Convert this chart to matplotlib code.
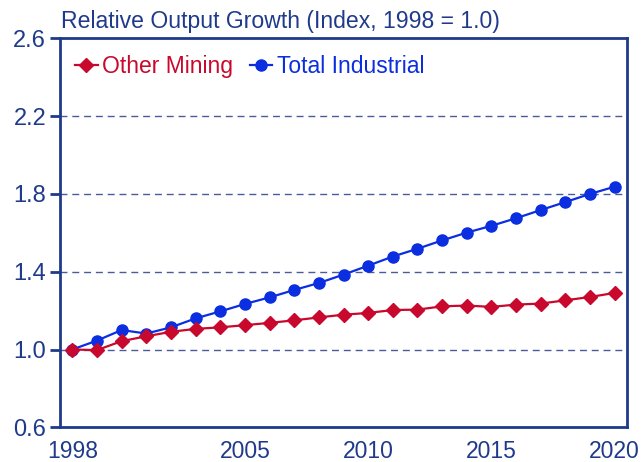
import matplotlib
matplotlib.use("Agg")
import matplotlib.pyplot as plt

# Data (index, 1998 = 1.0)
years = list(range(1998, 2021))
other_mining = [1.00, 0.997, 1.043, 1.068, 1.091, 1.106, 1.114, 1.125, 1.137, 1.150,
                1.165, 1.179, 1.188, 1.203, 1.205, 1.222, 1.226, 1.219, 1.231, 1.236,
                1.253, 1.270, 1.291]
total_industrial = [1.00, 1.046, 1.100, 1.082, 1.114, 1.160, 1.196, 1.234, 1.268, 1.306,
                    1.342, 1.385, 1.431, 1.478, 1.518, 1.561, 1.601, 1.636, 1.675, 1.717,
                    1.758, 1.800, 1.837]
x_ticks = [1998, 2005, 2010, 2015, 2020]
y_ticks = [0.6, 1.0, 1.4, 1.8, 2.2, 2.6]

NAVY = "#1f3a8a"
RED = "#c8082c"
BLUE = "#0a2ee0"

plt.rcParams["font.family"] = ["Liberation Sans", "DejaVu Sans"]

fig = plt.figure(figsize=(6.42, 4.62), dpi=100)
ax = fig.add_axes([0.0935, 0.0751, 0.8832, 0.842])

ax.plot(years, other_mining, color=RED, lw=1.6, marker="D", ms=6.8,
        label="Other Mining", zorder=4)
ax.plot(years, total_industrial, color=BLUE, lw=1.6, marker="o", ms=8,
        label="Total Industrial", zorder=3)

ax.set_xlim(1997.5, 2020.5)
ax.set_ylim(0.6, 2.6)
ax.set_xticks(x_ticks)
ax.set_yticks(y_ticks)
ax.set_yticklabels([f"{v:.1f}" for v in y_ticks])

# dashed gridlines at inner y ticks
for v in y_ticks[1:-1]:
    ax.axhline(v, color="#4a5a9a", lw=1.0, ls=(0, (5, 3.5)), zorder=1)

for sp in ax.spines.values():
    sp.set_color(NAVY)
    sp.set_linewidth(2.0)

ax.tick_params(axis="y", colors=NAVY, labelsize=17, length=7, width=2.0,
               direction="out", pad=3)
ax.tick_params(axis="x", colors=NAVY, labelsize=16.5, length=0, pad=9)

fig.text(61 / 642, (462 - 28) / 462, "Relative Output Growth (Index, 1998 = 1.0)",
         color=NAVY, fontsize=16.6, ha="left", va="baseline")

leg = ax.legend(loc="upper left", bbox_to_anchor=(75 / 642, (462 - 55) / 462),
                bbox_transform=fig.transFigure, ncol=2, frameon=False,
                fontsize=16.5, handlelength=1.0, handletextpad=0.2,
                columnspacing=0.7, borderpad=0, borderaxespad=0)
for txt, c in zip(leg.get_texts(), [RED, BLUE]):
    txt.set_color(c)

fig.savefig("out.png", dpi=100)
